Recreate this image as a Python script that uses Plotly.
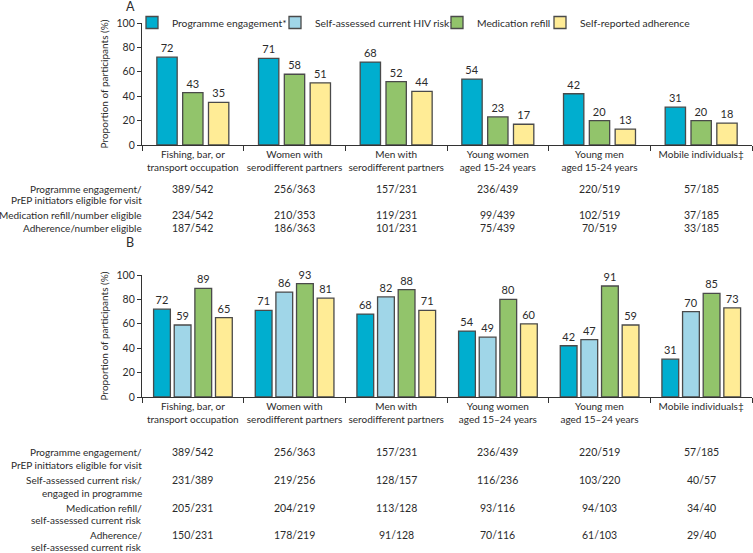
import plotly.graph_objects as go

# ---------------- data ----------------
categories_A = ["Fishing, bar, or<br>transport occupation", "Women with<br>serodifferent partners",
                "Men with<br>serodifferent partners", "Young women<br>aged 15-24 years",
                "Young men<br>aged 15-24 years", "Mobile individuals‡"]
categories_B = ["Fishing, bar, or<br>transport occupation", "Women with<br>serodifferent partners",
                "Men with<br>serodifferent partners", "Young women<br>aged 15–24 years",
                "Young men<br>aged 15–24 years", "Mobile individuals‡"]
series_names = ["Programme engagement*", "Self-assessed current HIV risk†",
                "Medication refill", "Self-reported adherence"]

engagement = [72, 71, 68, 54, 42, 31]
A_refill = [43, 58, 52, 23, 20, 20]
A_adherence = [35, 51, 44, 17, 13, 18]

B_engagement = [72, 71, 68, 54, 42, 31]
B_risk = [59, 86, 82, 49, 47, 70]
B_refill = [89, 93, 88, 80, 91, 85]
B_adherence = [65, 81, 71, 60, 59, 73]

A_engage_frac = ["389/542", "256/363", "157/231", "236/439", "220/519", "57/185"]
A_refill_frac = ["234/542", "210/353", "119/231", "99/439", "102/519", "37/185"]
A_adh_frac = ["187/542", "186/363", "101/231", "75/439", "70/519", "33/185"]

B_engage_frac = ["389/542", "256/363", "157/231", "236/439", "220/519", "57/185"]
B_risk_frac = ["231/389", "219/256", "128/157", "116/236", "103/220", "40/57"]
B_refill_frac = ["205/231", "204/219", "113/128", "93/116", "94/103", "34/40"]
B_adh_frac = ["150/231", "178/219", "91/128", "70/116", "61/103", "29/40"]

A_row_labels = [["Programme engagement/", "PrEP initiators eligible for visit"],
                ["Medication refill/number eligible"],
                ["Adherence/number eligible"]]
B_row_labels = [["Programme engagement/", "PrEP initiators eligible for visit"],
                ["Self-assessed current risk/", "engaged in programme"],
                ["Medication refill/", "self-assessed current risk"],
                ["Adherence/", "self-assessed current risk"]]

y_ticks = [0, 20, 40, 60, 80, 100]

# ---------------- styles ----------------
W, H = 753, 553
ML, MR = 142, 1
FONT = "Lato"
FS = 10
TXT = "#2b2b2b"
colors = ["#00aecf", "#a0d6e8", "#92c46b", "#ffec96"]
OUTLINE = "#4a4a4a"


def py(px):  # pixel y -> paper y
    return 1 - px / H


def pxx(px):  # pixel x -> paper x
    return (px - ML) / (W - ML - MR)


fig = go.Figure()

# Panel A (3 bars per group)
A_series = [(0, engagement), (2, A_refill), (3, A_adherence)]
A_offsets = [-0.354, -0.1, 0.154]
for (ci, vals), off in zip(A_series, A_offsets):
    fig.add_trace(go.Bar(
        x=categories_A, y=vals, name=series_names[ci], xaxis="x", yaxis="y",
        width=0.2, offset=off, marker=dict(color=colors[ci], line=dict(color=OUTLINE, width=1.3)),
        text=vals, textposition="outside", constraintext="none", cliponaxis=False,
        textfont=dict(family=FONT, size=11, color=TXT), showlegend=False,
        hoverinfo="x+y+name"))

# Panel B (4 bars per group)
B_series = [B_engagement, B_risk, B_refill, B_adherence]
B_offsets = [-0.386, -0.183, 0.02, 0.223]
legend_ids = ["legend", "legend2", "legend3", "legend4"]
for ci, (vals, off) in enumerate(zip(B_series, B_offsets)):
    fig.add_trace(go.Bar(
        x=categories_B, y=vals, name=series_names[ci], xaxis="x2", yaxis="y2",
        width=0.165, offset=off, marker=dict(color=colors[ci], line=dict(color=OUTLINE, width=1.3)),
        text=vals, textposition="outside", constraintext="none", cliponaxis=False,
        textfont=dict(family=FONT, size=11, color=TXT), showlegend=True,
        legend=legend_ids[ci], hoverinfo="x+y+name"))

axis_common = dict(showline=True, linecolor="#333333", linewidth=1.2, ticks="outside",
                   tickcolor="#333333", tickwidth=1.2, showgrid=False, zeroline=False,
                   automargin=False, tickfont=dict(family=FONT, size=FS, color=TXT))

xa = dict(axis_common, type="category", tickson="boundaries", ticklen=5, domain=[0, 1],
          range=[-0.5, 5.5], tickangle=0)
ya = dict(axis_common, range=[0, 100], tickvals=y_ticks, ticklen=4,
          tickfont=dict(family=FONT, size=10.5, color=TXT),
          title=dict(text="Proportion of participants (%)", standoff=6,
                     font=dict(family=FONT, size=FS, color=TXT)))

fig.update_layout(
    template="none",
    width=W, height=H, margin=dict(l=ML, r=MR, t=0, b=0, autoexpand=False),
    paper_bgcolor="white", plot_bgcolor="white", barmode="overlay",
    font=dict(family=FONT, size=FS, color=TXT),
    xaxis=dict(xa, anchor="y"),
    yaxis=dict(ya, domain=[py(145), py(23)], anchor="x"),
    xaxis2=dict(xa, anchor="y2"),
    yaxis2=dict(ya, domain=[py(397), py(275)], anchor="x2"),
)

# legends (one per series, positioned along the top of panel A)
legend_text_px = [172, 315, 477, 580]
leg = {}
for lid, tx in zip(legend_ids, legend_text_px):
    leg[lid] = dict(x=pxx(tx - 40), xanchor="left", y=py(22.5), yanchor="middle",
                    orientation="h", bgcolor="rgba(0,0,0,0)", borderwidth=0,
                    font=dict(family=FONT, size=10.3, color=TXT), itemclick=False,
                    itemdoubleclick=False)
fig.update_layout(**leg)

annotations = []
# panel letters
annotations.append(dict(text="A", x=pxx(130), y=py(7), xref="paper", yref="paper",
                        xanchor="center", yanchor="middle",
                        showarrow=False, font=dict(family=FONT, size=12.5, color=TXT)))
annotations.append(dict(text="B", x=pxx(130), y=py(242), xref="paper", yref="paper",
                        xanchor="center", yanchor="middle",
                        showarrow=False, font=dict(family=FONT, size=12.5, color=TXT)))


def add_table(row_labels, row_values, row_y, line2_dy, xref, cats):
    for labels, vals, y0 in zip(row_labels, row_values, row_y):
        for li, lab in enumerate(labels):
            annotations.append(dict(text=lab, x=pxx(144), y=py(y0 + li * line2_dy), xref="paper",
                                    yref="paper", xanchor="right", yanchor="middle",
                                    showarrow=False, font=dict(family=FONT, size=FS, color=TXT)))
        for c, v in zip(cats, vals):
            annotations.append(dict(text=v, x=c, y=py(y0), xref=xref, yref="paper",
                                    xanchor="center", yanchor="middle", showarrow=False,
                                    font=dict(family=FONT, size=10.5, color=TXT)))


add_table(A_row_labels, [A_engage_frac, A_refill_frac, A_adh_frac], [189, 215, 228], 11.5,
          "x", categories_A)
add_table(B_row_labels, [B_engage_frac, B_risk_frac, B_refill_frac, B_adh_frac],
          [452, 480, 507.5, 534.5], 12.5, "x2", categories_B)

fig.update_layout(annotations=annotations)

fig.write_html("out.html", config={"displayModeBar": False},
               post_script="document.body.style.margin='0px';")
